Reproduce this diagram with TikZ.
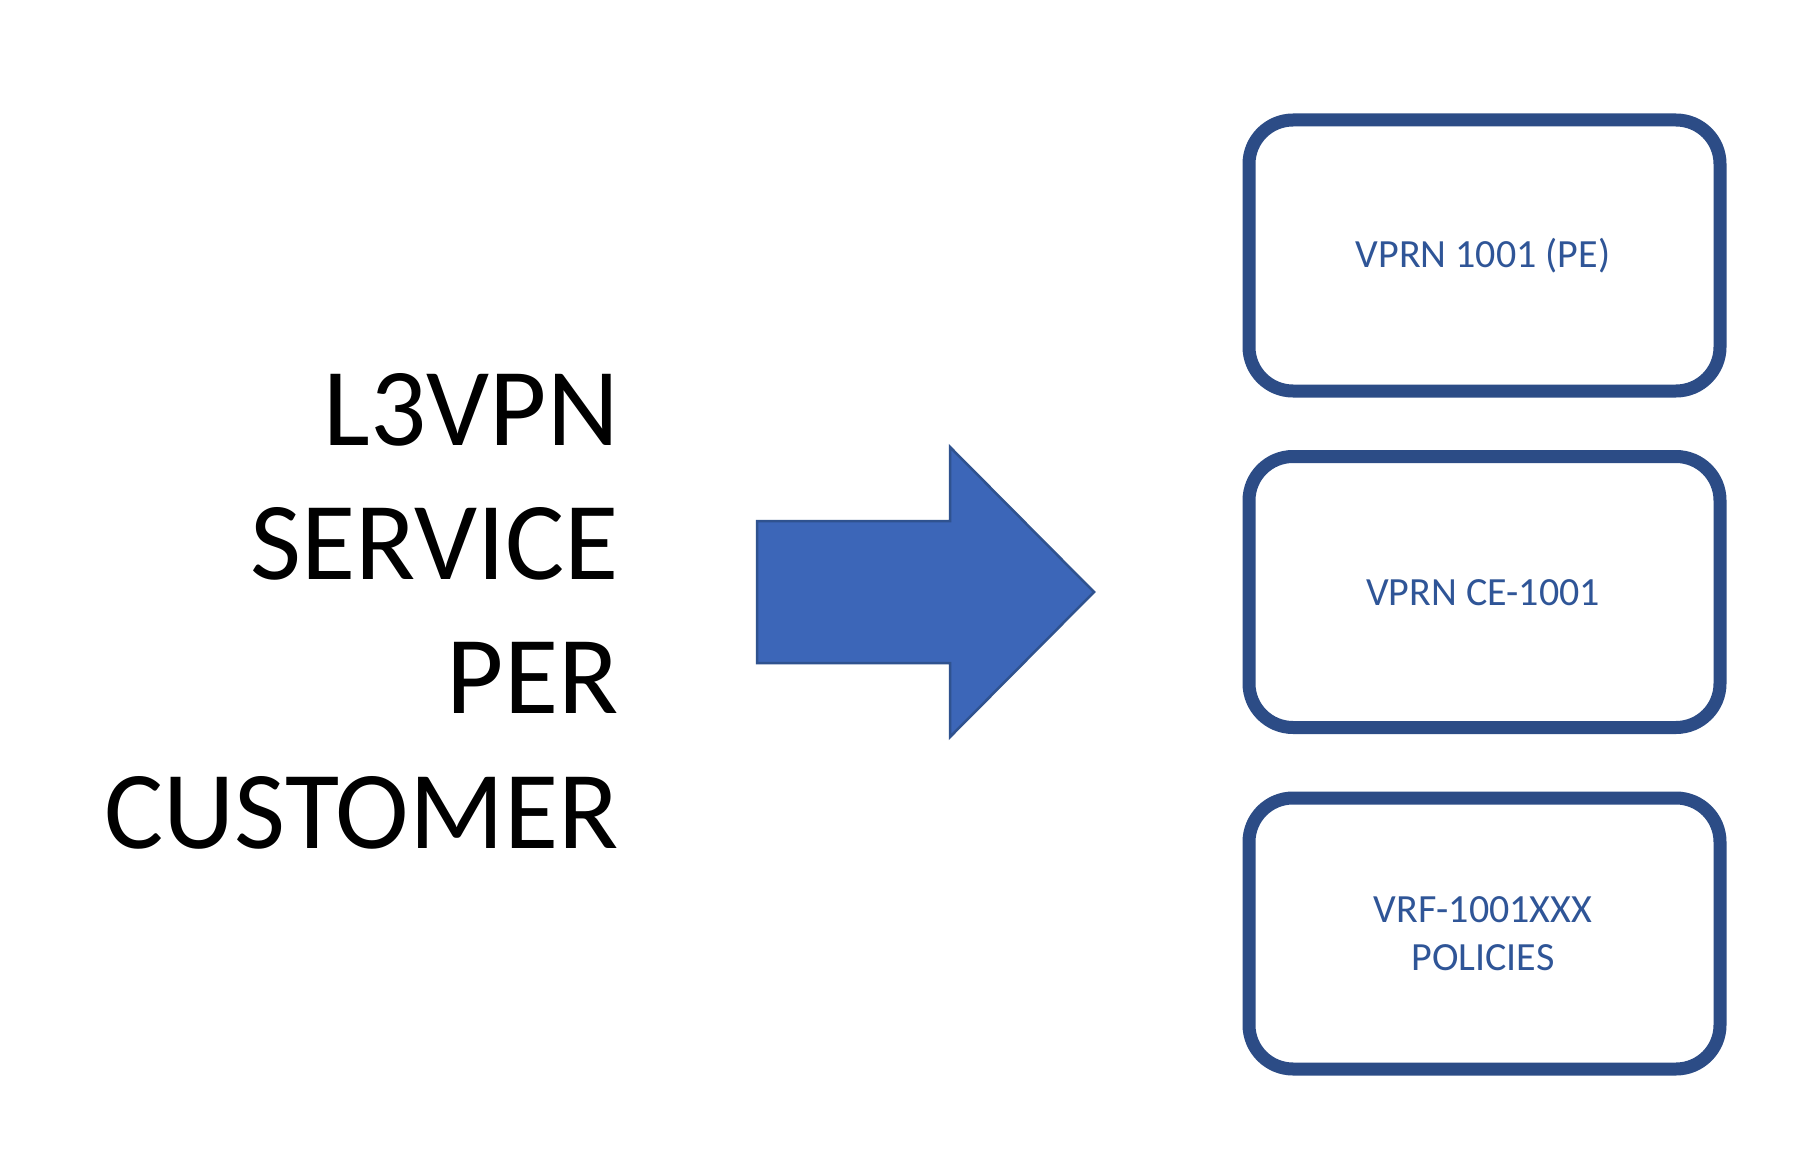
\documentclass[tikz,border=0pt]{standalone}
\usepackage{fontspec}
\setmainfont{Carlito}
\definecolor{boxline}{HTML}{2C4C86}
\definecolor{boxtext}{HTML}{2F5597}
\definecolor{arrowfill}{HTML}{3C66B8}
\definecolor{arrowline}{HTML}{2F528F}
\begin{document}
\begin{tikzpicture}[x=1pt,y=-1pt,
  bigtext/.style={anchor=base east,inner sep=0pt,font=\fontsize{111}{134}\selectfont,text=black},
  vbox/.style={draw=boxline,line width=13pt,rounded corners=44pt,minimum width=471pt,minimum height=271pt,inner sep=0pt,fill=white},
  vlabel/.style={anchor=base,inner sep=0pt,font=\fontsize{40}{48}\selectfont,text=boxtext,align=center}]
\fill[white] (0,0) rectangle (1810,1174);
\useasboundingbox (0,0) rectangle (1810,1174);
% left title
\node[bigtext] (l1) at (619,445) {L3VPN};
\node[bigtext] (l2) at (619,579) {SERVICE};
\node[bigtext] (l3) at (619,713) {PER};
\node[bigtext] (l4) at (619,848) {CUSTOMER};
% block arrow
\draw[fill=arrowfill,draw=arrowline,line width=2.5pt,line join=miter]
  (757,521) -- (950,521) -- (950,447) -- (1094,592) -- (950,737) -- (950,663) -- (757,663) -- cycle;
% boxes
\node[vbox] (b1) at (1484.5,255.5) {};
\node[vbox] (b2) at (1484.5,592) {};
\node[vbox] (b3) at (1484.5,933.5) {};
\node[vlabel] (t1) at (1483,268) {VPRN 1001 (PE)};
\node[vlabel] (t2) at (1483,605) {VPRN CE-1001};
\node[vlabel] (t3a) at (1483,922) {VRF-1001XXX};
\node[vlabel] (t3b) at (1483,970) {POLICIES};
\end{tikzpicture}
\end{document}
